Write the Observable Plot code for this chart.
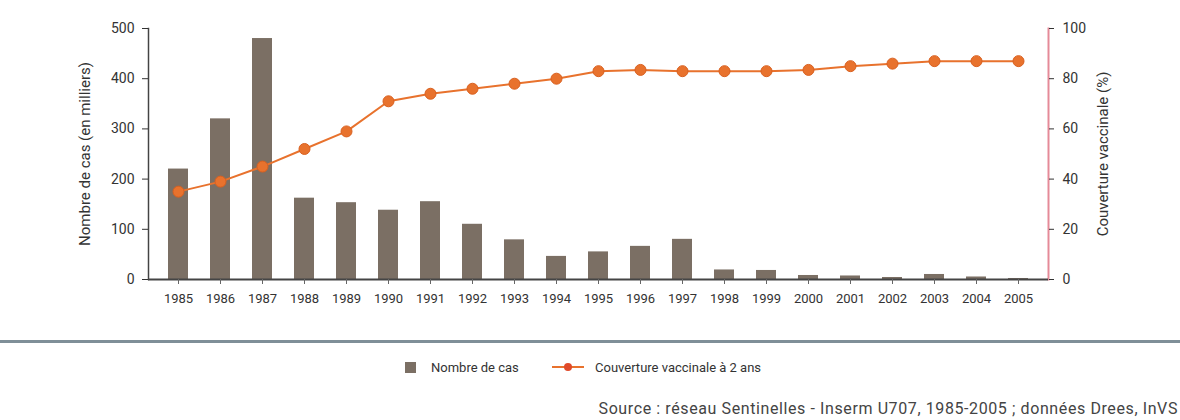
<!DOCTYPE html>
<html>
<head>
<meta charset="utf-8">
<script src="https://cdn.jsdelivr.net/npm/d3@7"></script>
<script src="https://cdn.jsdelivr.net/npm/@observablehq/plot@0.6"></script>
<style>
  html, body { margin: 0; padding: 0; background: #fff; }
  body { width: 1180px; height: 420px; overflow: hidden; font-family: Roboto, "Liberation Sans", sans-serif; }
  #rule { position: absolute; left: 0; top: 340px; width: 1180px; height: 3px; background: #7f8f98; }
  #legend { position: absolute; top: 357px; left: 0; width: 1180px; height: 20px; font-size: 13px; color: #333; }
  .item { position: absolute; top: 0; display: flex; align-items: center; height: 20px; }
  #source { position: absolute; top: 399px; right: 2px; font-size: 16px; letter-spacing: 0.6px; color: #444; white-space: nowrap; }
</style>
</head>
<body>
<div id="chart"></div>
<div id="rule"></div>
<div id="legend">
  <div class="item" style="left:405px"><svg width="11" height="11"><rect width="11" height="11" fill="#7b6f64"/></svg><span style="margin-left:15px">Nombre de cas</span></div>
  <div class="item" style="left:552px"><svg width="32" height="12"><line x1="0" y1="6" x2="32" y2="6" stroke="#e8722d" stroke-width="2"/><circle cx="16" cy="6" r="4" fill="#e04a2a"/></svg><span style="margin-left:11px">Couverture vaccinale à 2 ans</span></div>
</div>
<div id="source">Source : réseau Sentinelles - Inserm U707, 1985-2005 ; données Drees, InVS</div>
<script>
const years = ["1985","1986","1987","1988","1989","1990","1991","1992","1993","1994","1995","1996","1997","1998","1999","2000","2001","2002","2003","2004","2005"];
const cas = [220, 320, 480, 162, 153, 138, 155, 110, 79, 46, 55, 66, 80, 19, 18, 8, 7, 4, 10, 5, 2];
const couverture = [35, 39, 45, 52, 59, 71, 74, 76, 78, 80, 83, 83.5, 83, 83, 83, 83.5, 85, 86, 87, 87, 87];
const leftTicks = [0, 100, 200, 300, 400, 500];
const rightTicks = [0, 20, 40, 60, 80, 100];

const data = years.map((y, i) => ({year: y, cas: cas[i], pct: couverture[i]}));
const k = 500 / 100; // right axis (%) mapped onto left scale

const font = 'Roboto, "Liberation Sans", sans-serif';

const chart = Plot.plot({
  width: 1180,
  height: 320,
  marginTop: 28,
  marginBottom: 41,
  marginLeft: 148,
  marginRight: 132,
  style: {fontFamily: font, fontSize: "13px", color: "#333", background: "#fff"},
  x: {type: "band", domain: years, paddingInner: 0.52, paddingOuter: 0.45, label: null},
  y: {domain: [0, 500], label: null},
  marks: [
    Plot.barY(data, {x: "year", y: "cas", fill: "#7b6f64"}),
    Plot.frame({anchor: "left", stroke: "#444", strokeWidth: 1.5}),
    Plot.frame({anchor: "right", stroke: "#e58a98", strokeWidth: 2}),
    Plot.ruleY([0], {stroke: "#444", strokeWidth: 2}),
    Plot.axisX({tickSize: 5, tickPadding: 9, label: null, stroke: "#666", fontSize: 13}),
    Plot.axisY({anchor: "left", ticks: leftTicks, tickSize: 6, tickPadding: 8, label: null, fontSize: 14}),
    Plot.axisY({anchor: "right", ticks: rightTicks.map(d => d * k), tickFormat: d => d / k, tickSize: 5, tickPadding: 9, label: null, fontSize: 14}),
    Plot.line(data, {x: "year", y: d => d.pct * k, stroke: "#e8722d", strokeWidth: 2}),
    Plot.dot(data, {x: "year", y: d => d.pct * k, r: 5.5, fill: "#e8722d", stroke: "#d9601f", strokeWidth: 1}),
    Plot.text(["Nombre de cas (en milliers)"], {frameAnchor: "left", textAnchor: "middle", rotate: -90, dx: -63, fontSize: 15, fill: "#333"}),
    Plot.text(["Couverture vaccinale (%)"], {frameAnchor: "right", textAnchor: "middle", rotate: -90, dx: 55, fontSize: 15, fill: "#333"})
  ]
});
document.getElementById("chart").appendChild(chart);
</script>
</body>
</html>
